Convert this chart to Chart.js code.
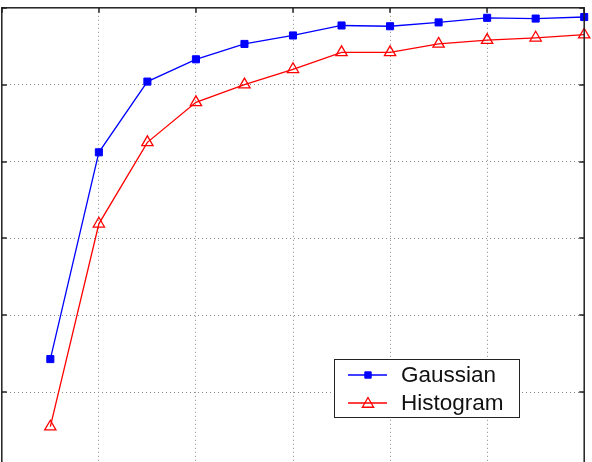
<!DOCTYPE html>
<html>
<head>
<meta charset="utf-8">
<script src="https://cdn.jsdelivr.net/npm/chart.js@4.4.1/dist/chart.umd.min.js"></script>
<style>
  html, body { margin: 0; padding: 0; background: #fff; overflow: hidden; }
  body { width: 592px; height: 462px; position: relative; }
  #wrap { position: absolute; left: -6px; top: 0; width: 598px; height: 480px; }
</style>
</head>
<body>
<div id="wrap"><canvas id="chart"></canvas></div>
<script>
// data
const xValues = [1, 2, 3, 4, 5, 6, 7, 8, 9, 10, 11, 12];
const gaussian = [0.543, 0.812, 0.904, 0.933, 0.953, 0.964, 0.977, 0.976, 0.981, 0.987, 0.986, 0.988];
const histogram = [0.455, 0.719, 0.825, 0.877, 0.900, 0.920, 0.942, 0.942, 0.953, 0.958, 0.961, 0.965];
const seriesNames = ['Gaussian', 'Histogram'];
const xRange = [0, 12];
const yRange = [0.4, 1.0];

function toPoints(ys) {
    return xValues.map((x, i) => ({ x: x, y: ys[i] }));
}

// frame, inward tick marks and the legend box inside the plot
const framePlugin = {
    id: 'frame',
    afterDraw(chart) {
        const ctx = chart.ctx;
        const a = chart.chartArea;
        const xs = chart.scales.x;
        const ys = chart.scales.y;
        ctx.save();
        ctx.strokeStyle = '#222';
        ctx.lineWidth = 1.5;
        ctx.strokeRect(a.left, a.top, a.right - a.left, a.bottom - a.top);

        // small tick marks pointing in
        ctx.lineWidth = 1.5;
        ctx.beginPath();
        xs.ticks.forEach(t => {
            const px = Math.round(xs.getPixelForValue(t.value));
            ctx.moveTo(px, a.top); ctx.lineTo(px, a.top + 5);
            ctx.moveTo(px, a.bottom); ctx.lineTo(px, a.bottom - 5);
        });
        ys.ticks.forEach(t => {
            const py = Math.round(ys.getPixelForValue(t.value));
            ctx.moveTo(a.left, py); ctx.lineTo(a.left + 5, py);
            ctx.moveTo(a.right, py); ctx.lineTo(a.right - 5, py);
        });
        ctx.stroke();

        // legend (page coords shifted by the canvas offset)
        const off = 6;
        const box = { x: 334.5 + off, y: 359.5, w: 185, h: 58 };
        ctx.fillStyle = '#fff';
        ctx.fillRect(box.x, box.y, box.w, box.h);
        ctx.strokeStyle = '#222';
        ctx.lineWidth = 1;
        ctx.strokeRect(box.x, box.y, box.w, box.h);

        ctx.font = '22.5px "Liberation Sans", Arial, sans-serif';
        ctx.textBaseline = 'middle';
        const rows = [375, 403];
        chart.data.datasets.forEach((ds, i) => {
            const y = rows[i];
            ctx.strokeStyle = ds.borderColor;
            ctx.lineWidth = ds.borderWidth;
            ctx.beginPath();
            ctx.moveTo(348 + off, y);
            ctx.lineTo(387 + off, y);
            ctx.stroke();
            ctx.fillStyle = ds.pointBackgroundColor;
            ctx.strokeStyle = ds.pointBorderColor;
            ctx.lineWidth = ds.pointBorderWidth;
            Chart.helpers.drawPoint(ctx, {
                pointStyle: ds.pointStyle,
                radius: ds.legendRadius,
                borderWidth: ds.pointBorderWidth,
                rotation: 0
            }, 368 + off, y + (ds.pointStyle === 'triangle' ? 1 : 0));
            ctx.fillStyle = '#111';
            ctx.fillText(ds.label, 401 + off, y + 1);
        });
        ctx.restore();
    }
};

const ctx = document.getElementById('chart').getContext('2d');
new Chart(ctx, {
    type: 'line',
    data: {
        datasets: [
            {
                label: seriesNames[0],
                data: toPoints(gaussian),
                borderColor: '#0000ff',
                borderWidth: 1.3,
                pointStyle: 'rect',
                pointRadius: 5,
                legendRadius: 4.5,
                pointBackgroundColor: '#0000ff',
                pointBorderColor: '#0000ff',
                pointBorderWidth: 1,
                tension: 0,
                clip: false
            },
            {
                label: seriesNames[1],
                data: toPoints(histogram),
                borderColor: '#ff0000',
                borderWidth: 1.3,
                pointStyle: 'triangle',
                pointRadius: 6.5,
                legendRadius: 6.5,
                pointBackgroundColor: 'rgba(255,255,255,0)',
                pointBorderColor: '#ff0000',
                pointBorderWidth: 1.3,
                tension: 0,
                clip: false
            }
        ]
    },
    options: {
        responsive: true,
        maintainAspectRatio: false,
        animation: false,
        events: [],
        layout: { padding: { left: 2, top: 6, right: 6.5, bottom: 11 } },
        plugins: { legend: { display: false }, tooltip: { enabled: false } },
        scales: {
            x: {
                type: 'linear',
                min: xRange[0],
                max: xRange[1],
                ticks: { display: false, stepSize: 2 },
                grid: { color: '#8a8a8a', lineWidth: 1, drawTicks: false },
                border: { display: false, dash: [1, 3] },
                afterFit: s => { s.height = 0; }
            },
            y: {
                min: yRange[0],
                max: yRange[1],
                ticks: { display: false, stepSize: 0.1 },
                grid: { color: '#8a8a8a', lineWidth: 1, drawTicks: false },
                border: { display: false, dash: [1, 3] },
                afterFit: s => { s.width = 0; }
            }
        }
    },
    plugins: [framePlugin]
});
</script>
</body>
</html>
